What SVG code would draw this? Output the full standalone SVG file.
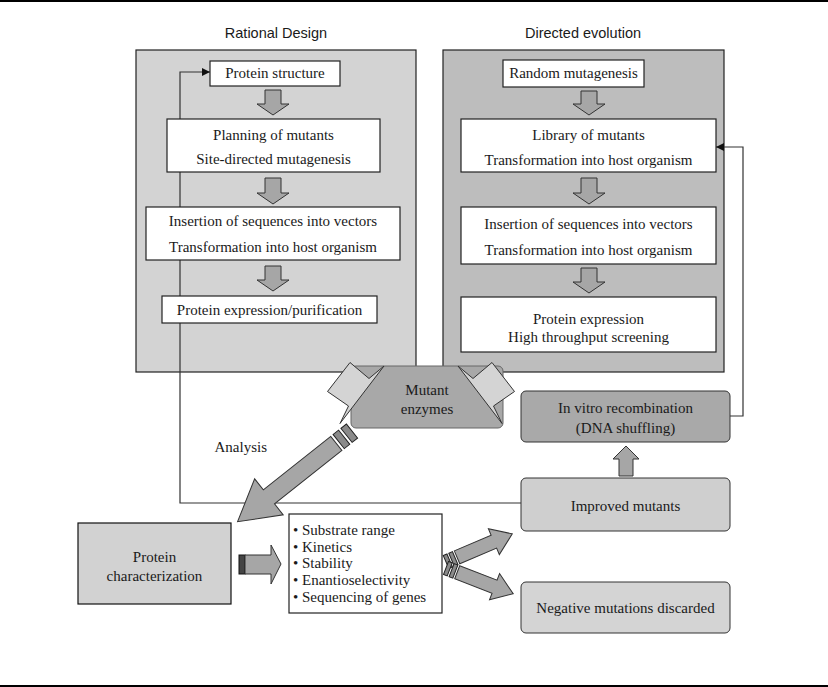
<svg xmlns="http://www.w3.org/2000/svg" width="828" height="687" viewBox="0 0 828 687">
<defs>
<style>
.t{font-family:"Liberation Serif","Times New Roman",serif;font-size:15px;fill:#1a1a1a;text-anchor:middle}
.tl{font-family:"Liberation Serif","Times New Roman",serif;font-size:15px;fill:#1a1a1a}
.h{font-family:"Liberation Sans",Arial,sans-serif;font-size:14.5px;fill:#1a1a1a;text-anchor:middle}
.box{fill:#ffffff;stroke:#222;stroke-width:1.2}
.blk{fill:#a6a6a6;stroke:#333;stroke-width:1}
.bar{fill:#8a8a8a;stroke:#222;stroke-width:1}
.lt{fill:#d4d4d4;stroke:#333;stroke-width:1;stroke-linejoin:miter}
.ln{fill:none;stroke:#333;stroke-width:1.2}
</style>
<marker id="ah" viewBox="0 0 10 10" refX="10" refY="5" markerWidth="8" markerHeight="8" markerUnits="userSpaceOnUse" orient="auto">
<path d="M0,0 L10,5 L0,10 z" fill="#111"/>
</marker>
</defs>
<rect x="0" y="0" width="828" height="687" fill="#ffffff"/>
<line x1="0" y1="1" x2="828" y2="1" stroke="#000" stroke-width="2"/>
<line x1="0" y1="686" x2="828" y2="686" stroke="#000" stroke-width="2"/>

<g id="panel-rational">
<rect x="136" y="50" width="280" height="322" fill="#d3d3d3" stroke="#222" stroke-width="1.2"/>
<text class="h" x="276" y="38">Rational Design</text>
</g>
<g id="panel-directed">
<rect x="443" y="50" width="281" height="322" fill="#bdbdbd" stroke="#222" stroke-width="1.2"/>
<text class="h" x="583" y="38">Directed evolution</text>
</g>

<g id="mutant-enzymes">
<rect x="351" y="366" width="152" height="62" rx="5" fill="#a8a8a8" stroke="#666" stroke-width="1"/>
<text class="t" x="427" y="395">Mutant</text>
<text class="t" x="427" y="414">enzymes</text>
</g>

<g id="connectors">
<polyline class="ln" points="521,503 180,503 180,72 210,72" marker-end="url(#ah)"/>
<polyline class="ln" points="730,416 743,416 743,147 716,147" marker-end="url(#ah)"/>
<polygon class="blk" points="265,90 281,90 281,104 289,104 273,115 257,104 265,104"/>
<polygon class="blk" points="265,178 281,178 281,193 289,193 273,204 257,193 265,193"/>
<polygon class="blk" points="265,266 281,266 281,280 289,280 273,291 257,280 265,280"/>
<polygon class="blk" points="581,91 597,91 597,104 605,104 589,115 573,104 581,104"/>
<polygon class="blk" points="581,178 597,178 597,193 605,193 589,204 573,193 581,193"/>
<polygon class="blk" points="581,268 597,268 597,282 605,282 589,293 573,282 581,282"/>
<polygon class="blk" points="626,446 639,459 633,459 633,476 619,476 619,459 613,459"/>
<polygon class="lt" points="350,362.5 369,378.5 384,366 340,423.5 348.5,406 327.5,391.5"/>
<polygon class="lt" points="492,362.5 473,378.5 458,366 502,423.5 493.5,406 514.5,391.5"/>
<g transform="translate(352,431) rotate(141.6)">
<rect class="bar" x="0" y="-9" width="7" height="18"/>
<rect class="bar" x="10" y="-9" width="7" height="18"/>
<polygon class="blk" points="20,-9 106,-9 106,-23 146,0 106,23 106,9 20,9"/>
</g>
<rect x="239" y="555" width="6" height="19" fill="#444" stroke="#111" stroke-width="1"/>
<polygon class="blk" points="245,555 271,555 271,545 281,564 271,584 271,574 245,574"/>
<g transform="translate(446,562) rotate(-23)">
<rect class="bar" x="0" y="-7" width="4" height="14"/>
<rect class="bar" x="6" y="-7" width="4" height="14"/>
<polygon class="blk" points="12,-7 52,-7 52,-14 72,0 52,14 52,7 12,7"/>
</g>
<g transform="translate(446,568) rotate(21)">
<rect class="bar" x="0" y="-7" width="4" height="14"/>
<rect class="bar" x="6" y="-7" width="4" height="14"/>
<polygon class="blk" points="12,-7 52,-7 52,-14 72,0 52,14 52,7 12,7"/>
</g>
<text class="tl" x="267" y="452" text-anchor="end">Analysis</text>
</g>

<g id="protein-structure">
<rect class="box" x="210" y="61" width="130" height="25"/>
<text class="t" x="275" y="78">Protein structure</text>
</g>
<g id="planning">
<rect class="box" x="167" y="119" width="213" height="53"/>
<text class="t" x="273.5" y="140">Planning of mutants</text>
<text class="t" x="273.5" y="164">Site-directed mutagenesis</text>
</g>
<g id="insertion-left">
<rect class="box" x="146" y="207" width="254" height="53"/>
<text class="t" x="273" y="226">Insertion of sequences into vectors</text>
<text class="t" x="273" y="252">Transformation into host organism</text>
</g>
<g id="expression-purification">
<rect class="box" x="162" y="296" width="215" height="27"/>
<text class="t" x="269.5" y="315">Protein expression/purification</text>
</g>

<g id="random-mutagenesis">
<rect class="box" x="503" y="60" width="141" height="27"/>
<text class="t" x="573.5" y="78">Random mutagenesis</text>
</g>
<g id="library">
<rect class="box" x="461" y="119" width="255" height="53"/>
<text class="t" x="588.5" y="140">Library of mutants</text>
<text class="t" x="588.5" y="165">Transformation into host organism</text>
</g>
<g id="insertion-right">
<rect class="box" x="461" y="207" width="255" height="57"/>
<text class="t" x="588.5" y="229">Insertion of sequences into vectors</text>
<text class="t" x="588.5" y="255">Transformation into host organism</text>
</g>
<g id="expression-screening">
<rect class="box" x="461" y="297" width="255" height="55"/>
<text class="t" x="588.5" y="324">Protein expression</text>
<text class="t" x="588.5" y="342">High throughput screening</text>
</g>

<g id="in-vitro">
<rect x="521" y="391" width="209" height="51" rx="5" fill="#a9a9a9" stroke="#333" stroke-width="1"/>
<text class="t" x="625.5" y="413">In vitro recombination</text>
<text class="t" x="625.5" y="433">(DNA shuffling)</text>
</g>
<g id="improved">
<rect x="521" y="478" width="209" height="53" rx="5" fill="#cfcfcf" stroke="#333" stroke-width="1"/>
<text class="t" x="625.5" y="511">Improved mutants</text>
</g>
<g id="negative">
<rect x="521" y="582" width="209" height="51" rx="5" fill="#d4d4d4" stroke="#333" stroke-width="1"/>
<text class="t" x="625.5" y="613">Negative mutations discarded</text>
</g>
<g id="characterization">
<rect x="78" y="523" width="153" height="81" fill="#d2d2d2" stroke="#111" stroke-width="1.2"/>
<text class="t" x="154.5" y="562">Protein</text>
<text class="t" x="154.5" y="581">characterization</text>
</g>
<g id="properties">
<rect class="box" x="289" y="514" width="153" height="99"/>
<text class="tl" x="293" y="535">• Substrate range</text>
<text class="tl" x="293" y="552">• Kinetics</text>
<text class="tl" x="293" y="568">• Stability</text>
<text class="tl" x="293" y="585">• Enantioselectivity</text>
<text class="tl" x="293" y="602">• Sequencing of genes</text>
</g>
</svg>
